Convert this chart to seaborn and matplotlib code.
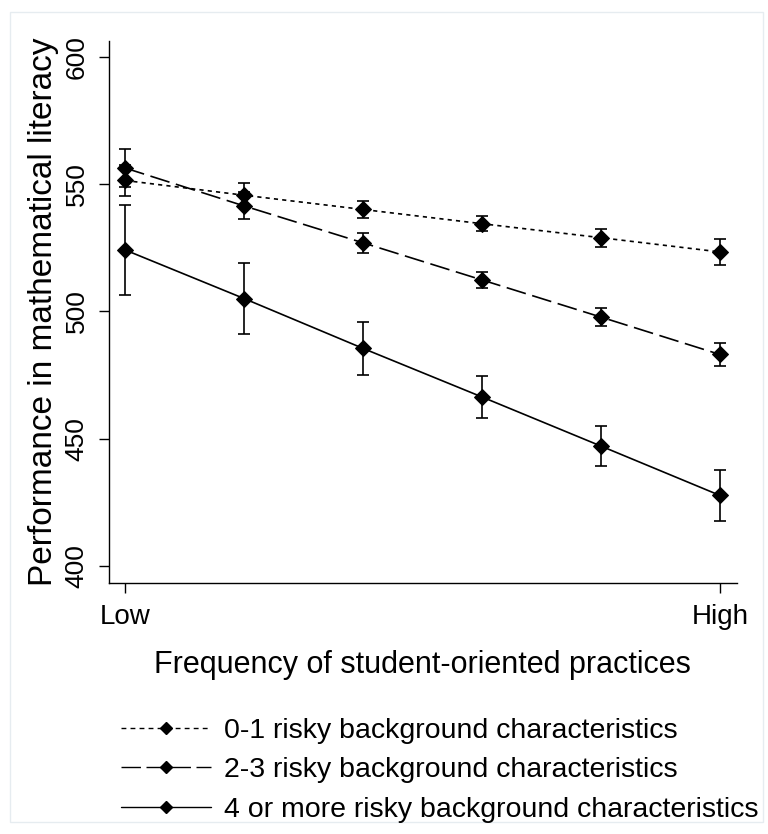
import matplotlib
matplotlib.use("Agg")
import matplotlib.pyplot as plt
import numpy as np
import pandas as pd
import seaborn as sns
from matplotlib.lines import Line2D
from matplotlib.patches import Rectangle

# Frequency of student-oriented practices, Low .. High (6 levels)
levels = [0, 1, 2, 3, 4, 5]
tick_labels = ["Low", "High"]

groups = [
    "0-1 risky background characteristics",
    "2-3 risky background characteristics",
    "4 or more risky background characteristics",
]
score_01 = [551.5, 545.7, 540.1, 534.5, 529.0, 523.4]
err_01 = [6.0, 4.8, 3.5, 3.0, 3.6, 5.0]
score_23 = [556.4, 541.5, 527.0, 512.4, 497.8, 483.1]
err_23 = [7.3, 5.3, 4.0, 3.2, 3.5, 4.5]
score_4p = [524.2, 505.1, 485.5, 466.4, 447.1, 427.7]
err_4p = [17.6, 13.8, 10.5, 8.1, 7.9, 9.9]

FONT = "Liberation Sans"


def main():
    sns.set_style("ticks")
    plt.rcParams["font.family"] = [FONT, "DejaVu Sans"]
    plt.rcParams["text.color"] = "black"
    plt.rcParams["axes.labelcolor"] = "black"
    plt.rcParams["xtick.color"] = "black"
    plt.rcParams["ytick.color"] = "black"

    df = pd.DataFrame({
        "level": levels * 3,
        "score": score_01 + score_23 + score_4p,
        "err": err_01 + err_23 + err_4p,
        "group": [g for g in groups for _ in levels],
    })

    fig = plt.figure(figsize=(7.68, 8.34), dpi=100)
    fig.patch.set_facecolor("white")
    ax = fig.add_axes([0.1414, 0.301, 0.8176, 0.6498])

    dash_map = {groups[0]: (2.5, 2.5), groups[1]: (12, 4), groups[2]: ""}

    sns.lineplot(
        data=df, x="level", y="score", style="group",
        dashes=dash_map, markers={g: "D" for g in groups},
        color="black", linewidth=1.2, markersize=8,
        markeredgecolor="black", legend=False, ax=ax,
    )

    # error bars
    for g, sub in df.groupby("group", sort=False):
        ax.errorbar(sub["level"], sub["score"], yerr=sub["err"], fmt="none",
                    ecolor="black", elinewidth=1.2, capsize=4.5, capthick=1.2)

    ax.set_xlim(-0.138, 5.139)
    ax.set_ylim(393.3, 606.3)
    ax.set_xticks([0, 5])
    ax.set_xticklabels(tick_labels, fontsize=20)
    ax.set_yticks([400, 450, 500, 550, 600])
    ax.set_yticklabels(["400", "450", "500", "550", "600"], fontsize=19,
                       rotation=90, va="center")
    ax.tick_params(axis="both", length=7.2, width=1.0, color="black")
    ax.tick_params(axis="x", pad=8)
    ax.tick_params(axis="y", pad=7)
    ax.set_xlabel("Frequency of student-oriented practices", fontsize=22, labelpad=14)
    ax.set_ylabel("Performance in mathematical literacy", fontsize=24, labelpad=4)
    sns.despine(ax=ax)
    for s in ["left", "bottom"]:
        ax.spines[s].set_linewidth(1.0)
        ax.spines[s].set_color("black")

    # legend below the plot
    handles = [
        Line2D([], [], color="black", lw=1.0, dashes=(3.5, 3), marker="D", markersize=6.5),
        Line2D([], [], color="black", lw=1.0, dashes=(14, 4), marker="D", markersize=6.5),
        Line2D([], [], color="black", lw=1.0, marker="D", markersize=6.5),
    ]
    fig.legend(handles, groups, loc="upper left", bbox_to_anchor=(0.158, 0.139),
               frameon=False, fontsize=20.5, handlelength=3.15, handletextpad=0.44,
               labelspacing=0.47, borderaxespad=0, borderpad=0,
               bbox_transform=fig.transFigure)

    # thin light frame around the graph region
    fig.patches.append(Rectangle((10 / 768, 12 / 834), 753 / 768, 810 / 834,
                                 transform=fig.transFigure, fill=False,
                                 edgecolor="#e6ecf0", linewidth=1.0))

    fig.savefig("out.png", dpi=100, facecolor="white")


if __name__ == "__main__":
    main()
